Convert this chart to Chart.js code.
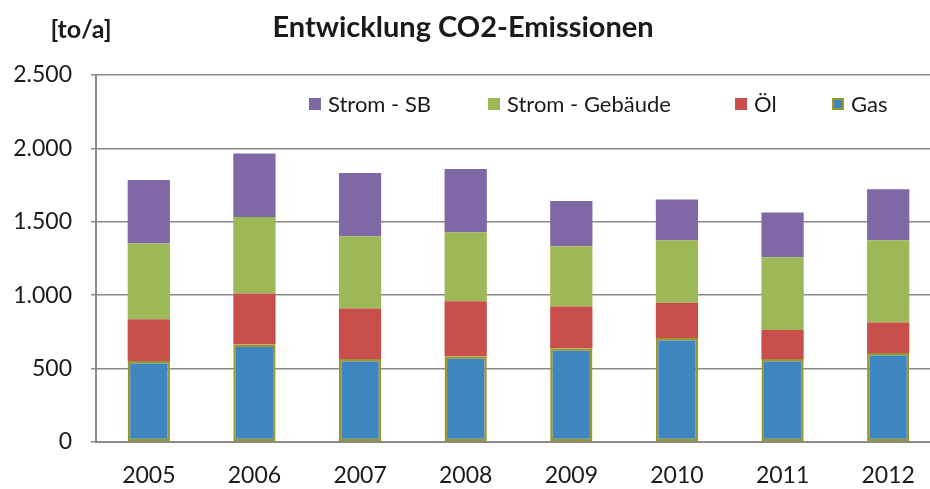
<!DOCTYPE html>
<html>
<head>
<meta charset="utf-8">
<script src="https://cdn.jsdelivr.net/npm/chart.js@4.4.1/dist/chart.umd.min.js"></script>
<style>
  html, body { margin: 0; padding: 0; background: #ffffff; overflow: hidden; }
  #wrap { position: relative; width: 941px; height: 489px; }
</style>
</head>
<body>
<div id="wrap"><canvas id="c"></canvas></div>
<script>
const title = 'Entwicklung CO2-Emissionen';
const unitLabel = '[to/a]';
const years = ['2005', '2006', '2007', '2008', '2009', '2010', '2011', '2012'];
const gas = [552, 664, 566, 584, 639, 709, 566, 607];
const oel = [284, 347, 343, 375, 284, 239, 197, 207];
const stromGebaeude = [516, 521, 493, 470, 411, 427, 496, 561];
const stromSB = [432, 434, 430, 430, 307, 277, 305, 346];
const seriesNames = ['Gas', 'Öl', 'Strom - Gebäude', 'Strom - SB'];
const yMin = 0, yMax = 2500, yStep = 500;

const colors = {
  gas: '#3f86c1', gasBorder: '#9a972c',
  oel: '#c84f4c', geb: '#9db856', sb: '#8067a5',
  grid: '#8a8a8a', text: '#1a1a1a'
};

const fontFam = 'Lato, "Open Sans", "Liberation Sans", sans-serif';

const overlayPlugin = {
  id: 'overlay',
  afterDraw(chart) {
    const ctx = chart.ctx;
    ctx.save();
    ctx.fillStyle = colors.text;
    ctx.textBaseline = 'middle';
    // title
    ctx.font = 'bold 29px ' + fontFam;
    ctx.textAlign = 'center';
    ctx.fillText(title, 463, 28);
    // unit
    ctx.font = 'bold 25px ' + fontFam;
    ctx.fillText(unitLabel, 81, 30);
    // legend (reverse of stack order)
    ctx.font = '22px ' + fontFam;
    ctx.textAlign = 'left';
    const ds = chart.data.datasets.slice().reverse();
    const xs = [309, 488, 735, 832];
    const y = 104;
    ds.forEach((d, i) => {
      const x = xs[i];
      ctx.fillStyle = d.backgroundColor;
      ctx.fillRect(x, y - 6, 12, 12);
      if (d.borderWidth) {
        ctx.strokeStyle = d.borderColor;
        ctx.lineWidth = 2;
        ctx.strokeRect(x + 1, y - 5, 10, 10);
      }
      ctx.fillStyle = colors.text;
      ctx.fillText(d.label, x + 19, y + 1);
    });
    ctx.restore();
  }
};

new Chart(document.getElementById('c'), {
  type: 'bar',
  data: {
    labels: years,
    datasets: [
      { label: seriesNames[0], data: gas, backgroundColor: colors.gas, borderColor: colors.gasBorder, borderWidth: 2.5, borderSkipped: false },
      { label: seriesNames[1], data: oel, backgroundColor: colors.oel, borderWidth: 0 },
      { label: seriesNames[2], data: stromGebaeude, backgroundColor: colors.geb, borderWidth: 0 },
      { label: seriesNames[3], data: stromSB, backgroundColor: colors.sb, borderWidth: 0 }
    ]
  },
  options: {
    responsive: true,
    maintainAspectRatio: false,
    animation: false,
    devicePixelRatio: 1,
    layout: { padding: { top: 75, left: 0, right: 0, bottom: 0 } },
    plugins: { legend: { display: false }, title: { display: false }, tooltip: { enabled: false } },
    datasets: { bar: { categoryPercentage: 1.0, barPercentage: 0.4 } },
    scales: {
      x: {
        stacked: true,
        grid: { display: false },
        border: { display: true, color: colors.grid, width: 2 },
        ticks: { color: colors.text, font: { family: fontFam, size: 23 }, padding: 12, maxRotation: 0 },
        afterFit(s) { s.height = 47; }
      },
      y: {
        stacked: true,
        min: yMin, max: yMax,
        grid: { color: colors.grid, lineWidth: 1.5, tickLength: 5, drawTicks: true },
        border: { display: true, color: colors.grid, width: 2 },
        ticks: {
          stepSize: yStep,
          color: colors.text,
          font: { family: fontFam, size: 23 },
          padding: 19,
          callback: (v) => v.toLocaleString('de-DE')
        },
        afterFit(s) { s.width = 96; }
      }
    }
  },
  plugins: [overlayPlugin]
});
</script>
</body>
</html>
